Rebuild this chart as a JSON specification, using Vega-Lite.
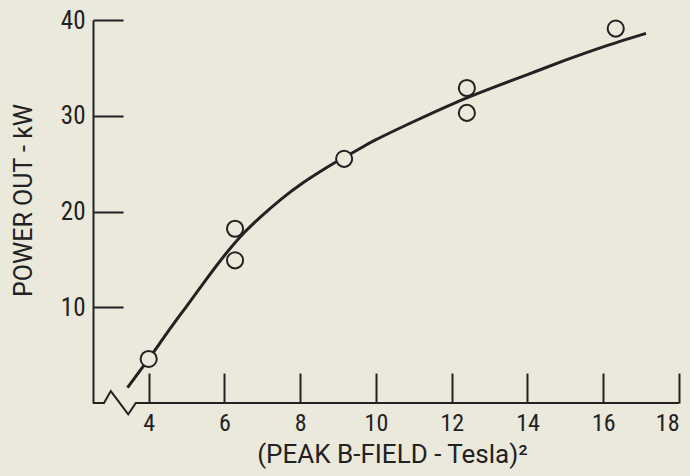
{
  "$schema": "https://vega.github.io/schema/vega-lite/v6.json",
  "width": 586,
  "height": 383,
  "autosize": "none",
  "padding": {"left": 93, "top": 20, "right": 11, "bottom": 73},
  "background": "#ebe8dc",
  "config": {
    "view": {"stroke": null},
    "font": "Liberation Sans Narrow, Roboto Condensed, DejaVu Sans Condensed, Liberation Sans",
    "axis": {
      "grid": false,
      "labelColor": "#222222",
      "titleColor": "#222222",
      "tickColor": "#222222",
      "domainColor": "#222222",
      "tickWidth": 2,
      "domainWidth": 2,
      "titleFontWeight": "normal",
      "titleFont": "Roboto",
      "labelFontSize": 25,
      "titleFontSize": 25
    }
  },
  "datasets": {
    "points": [
      {"x": 4.0, "y": 4.6},
      {"x": 6.28, "y": 14.9},
      {"x": 6.28, "y": 18.2},
      {"x": 9.16, "y": 25.5},
      {"x": 12.4, "y": 30.3},
      {"x": 12.4, "y": 32.9},
      {"x": 16.33, "y": 39.1}
    ],
    "curve": [
      {"x": 3.44, "y": 1.6},
      {"x": 4.0, "y": 4.6},
      {"x": 4.5, "y": 7.4},
      {"x": 5.0, "y": 10.1},
      {"x": 5.5, "y": 12.8},
      {"x": 6.0, "y": 15.4},
      {"x": 6.5, "y": 17.7},
      {"x": 7.0, "y": 19.6},
      {"x": 7.5, "y": 21.3},
      {"x": 8.0, "y": 22.8},
      {"x": 8.5, "y": 24.1},
      {"x": 9.0, "y": 25.3},
      {"x": 9.5, "y": 26.4},
      {"x": 10.0, "y": 27.5},
      {"x": 11.0, "y": 29.4},
      {"x": 12.0, "y": 31.2},
      {"x": 13.0, "y": 32.8},
      {"x": 14.0, "y": 34.3},
      {"x": 15.0, "y": 35.8},
      {"x": 16.0, "y": 37.2},
      {"x": 17.13, "y": 38.6}
    ],
    "baseline": [
      {"x": 2.53, "y": 0},
      {"x": 2.82, "y": 0},
      {"x": 3.0, "y": 1.25},
      {"x": 3.46, "y": -1.18},
      {"x": 3.66, "y": 0},
      {"x": 18.0, "y": 0}
    ]
  },
  "layer": [
    {
      "data": {"name": "baseline"},
      "mark": {"type": "line", "color": "#222222", "strokeWidth": 2, "strokeJoin": "miter"},
      "encoding": {
        "x": {
          "field": "x", "type": "quantitative",
          "scale": {"domain": [2.53, 18], "nice": false, "zero": false},
          "axis": {
            "title": "(PEAK B-FIELD - Tesla)²",
            "values": [4, 6, 8, 10, 12, 14, 16, 18],
            "domain": false,
            "tickSize": -30,
            "labelPadding": 38,
            "labelFontSize": 24,
            "titleFontSize": 26,
            "titlePadding": 6,
            "titleX": 299
          }
        },
        "y": {
          "field": "y", "type": "quantitative",
          "scale": {"domain": [0, 40], "nice": false},
          "axis": {
            "title": "POWER OUT - kW",
            "values": [10, 20, 30, 40],
            "domain": true,
            "tickSize": -30,
            "labelPadding": 38,
            "titlePadding": 24,
            "titleY": 180
          }
        }
      }
    },
    {
      "data": {"name": "curve"},
      "mark": {"type": "line", "interpolate": "natural", "strokeWidth": 3, "color": "#222222"},
      "encoding": {
        "x": {"field": "x", "type": "quantitative"},
        "y": {"field": "y", "type": "quantitative"}
      }
    },
    {
      "data": {"name": "points"},
      "mark": {"type": "point", "shape": "circle", "size": 260, "filled": true, "fill": "#ebe8dc", "stroke": "#222222", "strokeWidth": 2, "opacity": 1},
      "encoding": {
        "x": {"field": "x", "type": "quantitative"},
        "y": {"field": "y", "type": "quantitative"}
      }
    }
  ]
}
